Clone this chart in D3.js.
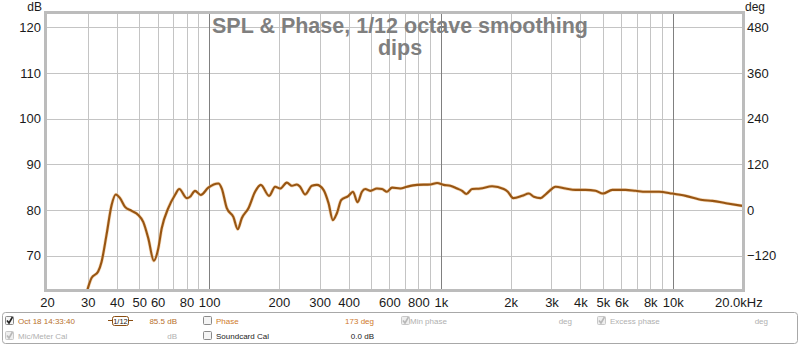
<!DOCTYPE html>
<html><head><meta charset="utf-8">
<script src="https://cdn.jsdelivr.net/npm/d3@7"></script>
<style>body{margin:0;background:#fff}svg{display:block}text{font-family:"Liberation Sans",Arial,sans-serif}</style>
</head><body>
<svg id="c" width="800" height="346"></svg>
<script>
const freqs = [29.5,30.5,31.1,33.2,34.4,36.1,38.0,39.6,41.3,43.4,46.4,49.5,52.0,54.7,57.8,60.4,62.5,66.7,71.3,74.4,80.1,82.8,87.0,92.1,99.3,109.7,113.5,119.3,127.3,133.0,138.4,147.9,158.0,167.2,181.6,192.8,202.6,216.6,227.7,239.2,247,259.8,277.7,291.9,311.7,327.6,342,356,371.7,399.7,417.6,437.1,456.6,472,496,530,557,585.6,615.6,668.4,714.5,789,901,963,1028,1099,1175,1235,1288,1364,1481,1663,1867,1944,2051,2243,2395,2518,2692,2828,3022,3124,3451,3811,4210,4649,5000,5490,6266,6923,7647,8728,9970,11380,13430,14840,16950,19970];
const spl = [61.5,64.0,65.1,66.5,68.7,74.5,81.1,83.4,82.6,80.7,79.8,78.9,77.4,73.8,68.9,71.6,76.0,80.4,83.3,84.6,82.6,82.9,84.2,83.3,84.9,85.8,84.7,80.4,78.5,75.8,78.2,80.4,84.0,85.5,83.1,85.1,84.7,86.0,85.3,85.6,85.1,83.4,85.3,85.5,84.4,81.5,77.8,79.3,82.2,83.1,84.0,81.7,84.0,84.6,84.2,84.7,84.6,84.0,84.9,84.7,85.1,85.5,85.6,85.9,85.5,85.3,84.7,84.2,83.5,84.6,84.7,85.2,84.6,84.0,82.6,83.1,83.6,82.9,82.6,83.4,84.7,85.1,84.7,84.4,84.4,84.2,83.6,84.4,84.4,84.2,84.0,84.0,83.6,83.1,82.2,82.0,81.5,80.9];
const xTicks = [20,30,40,50,60,80,100,200,300,400,600,800,1000,2000,3000,4000,5000,6000,8000,10000];
const xTickLabels = ["20","30","40","50","60","80","100","200","300","400","600","800","1k","2k","3k","4k","5k","6k","8k","10k"];
const xGrid = [30,40,50,60,70,80,90,200,300,400,500,600,700,800,900,2000,3000,4000,5000,6000,7000,8000,9000];
const xMajor = [100,1000,10000];
const dbTicks = [70,80,90,100,110,120];
const degTicks = [-120,0,120,240,360,480];
const titleLines = ["SPL & Phase, 1/12 octave smoothing","dips"];

const svg = d3.select("#c");
const L=47, R=742.5, T=13.5, B=290;
const x = d3.scaleLog().domain([20,20000]).range([L,R]);
const y = d3.scaleLinear().domain([62.5,123]).range([B,T]);
// deg axis: 0 deg at 80 dB, 120 deg per 10 dB
const yDeg = d3.scaleLinear().domain([(62.5-80)*12,(123-80)*12]).range([B,T]);

svg.append("defs").append("clipPath").attr("id","clip").append("rect")
  .attr("x",L).attr("y",T).attr("width",R-L).attr("height",B-T);

const g = svg.append("g");
g.selectAll(".vg").data(xGrid).join("line").attr("x1",d=>Math.round(x(d))+0.5).attr("x2",d=>Math.round(x(d))+0.5)
  .attr("y1",T).attr("y2",B).attr("stroke","#c4c4c4").attr("stroke-width",1);
g.selectAll(".hg").data(dbTicks).join("line").attr("x1",L).attr("x2",R)
  .attr("y1",d=>Math.round(y(d))+0.5).attr("y2",d=>Math.round(y(d))+0.5).attr("stroke","#c4c4c4").attr("stroke-width",1);
g.selectAll(".mg").data(xMajor).join("line").attr("x1",d=>Math.round(x(d))+0.5).attr("x2",d=>Math.round(x(d))+0.5)
  .attr("y1",T).attr("y2",B).attr("stroke","#808080").attr("stroke-width",1);

svg.append("g").selectAll("text").data(titleLines).join("text")
  .attr("x",400).attr("y",(d,i)=>33+i*22).attr("text-anchor","middle")
  .attr("font-size","21.5px").attr("font-weight","bold").attr("fill","#7f7f7f").text(d=>d);

const line = d3.line().x((d,i)=>x(freqs[i])).y(d=>y(d)).curve(d3.curveMonotoneX);
const cg = svg.append("g").attr("clip-path","url(#clip)");
cg.append("path").attr("d",line(spl)).attr("fill","none").attr("stroke","#e9b77a").attr("stroke-opacity",0.55).attr("stroke-width",3.4);
cg.append("path").attr("d",line(spl)).attr("fill","none").attr("stroke","#985512").attr("stroke-width",2.1).attr("stroke-linejoin","round");

svg.append("rect").attr("x",L-1.5).attr("y",T-1).attr("width",R-L+2.5).attr("height",B-T+1.5)
  .attr("fill","none").attr("stroke","#bcbcbc").attr("stroke-width",3);

const yAxisL = d3.axisLeft(y).tickValues(dbTicks).tickSize(0).tickPadding(5);
const gl = svg.append("g").attr("transform",`translate(${L-1},0)`).call(yAxisL);
const yAxisR = d3.axisRight(yDeg).tickValues(degTicks).tickSize(0).tickPadding(4);
const gr = svg.append("g").attr("transform",`translate(${R+0.5},0)`).call(yAxisR);
const xAxis = d3.axisBottom(x).tickValues(xTicks).tickFormat((d,i)=>xTickLabels[i]).tickSize(0).tickPadding(8);
const gx = svg.append("g").attr("transform",`translate(0,${B})`).call(xAxis);
[gl,gr,gx].forEach(a=>{a.select(".domain").remove();a.selectAll("text").attr("font-size","13px").attr("fill","#1a1a1a").attr("font-family","Liberation Sans, Arial, sans-serif");});
gx.append("text").attr("x",715).attr("y",17).attr("fill","#1a1a1a").attr("font-size","13px").attr("text-anchor","start").attr("font-family","Liberation Sans, Arial, sans-serif").text("20.0kHz");
svg.append("text").attr("x",42).attr("y",11).attr("text-anchor","end").attr("font-size","12px").attr("fill","#1a1a1a").text("dB");
svg.append("text").attr("x",745).attr("y",11).attr("font-size","12px").attr("fill","#1a1a1a").text("deg");

const lp = svg.append("g");
lp.append("rect").attr("x",2.5).attr("y",312.5).attr("width",795).attr("height",31).attr("rx",3)
  .attr("fill","#fff").attr("stroke","#a8a8a8");
function checkbox(cx,cy,checked,dim){
  const b = lp.append("g");
  b.append("rect").attr("x",cx).attr("y",cy).attr("width",8).attr("height",8).attr("rx",1)
    .attr("fill",dim?"#eeeeee":"#f4f4f4").attr("stroke",dim?"#c8c8c8":"#8a8a8a");
  if(checked) b.append("path").attr("d",`M${cx+1.5},${cy+4} L${cx+3.5},${cy+6.5} L${cx+7},${cy+0.5}`)
    .attr("fill","none").attr("stroke",dim?"#b8b8b8":"#222").attr("stroke-width",1.6);
}
function txt(tx,ty,s,col,anchor){
  lp.append("text").attr("x",tx).attr("y",ty).attr("font-size","8px").attr("fill",col)
    .attr("text-anchor",anchor||"start").text(s);
}
const r1=324, r2=339;
checkbox(5.5,316.5,true,false);
txt(18,r1,"Oct 18 14:33:40","#b7702c");
lp.append("line").attr("x1",108).attr("x2",133).attr("y1",320.5).attr("y2",320.5).attr("stroke","#8a4e12");
lp.append("rect").attr("x",112.5).attr("y",316.5).attr("width",16).attr("height",9).attr("rx",2).attr("fill","#fff").attr("stroke","#8a4e12");
lp.append("text").attr("x",120.5).attr("y",324).attr("text-anchor","middle").attr("font-size","7.5px").attr("fill","#222").text("1/12");
txt(177,r1,"85.5 dB","#b7702c","end");
checkbox(203.5,316.5,false,false);
txt(216,r1,"Phase","#d07a2a");
txt(374,r1,"173 deg","#d07a2a","end");
checkbox(401.5,316.5,true,true);
txt(410,r1,"Min phase","#b0b0b0");
txt(572,r1,"deg","#b0b0b0","end");
checkbox(597.5,316.5,true,true);
txt(610,r1,"Excess phase","#b0b0b0");
txt(768,r1,"deg","#b0b0b0","end");
checkbox(5.5,331.5,true,true);
txt(18,r2,"Mic/Meter Cal","#b0b0b0");
txt(177,r2,"dB","#b0b0b0","end");
checkbox(203.5,331.5,false,false);
txt(216,r2,"Soundcard Cal","#222");
txt(374,r2,"0.0 dB","#222","end");
</script>
</body></html>
